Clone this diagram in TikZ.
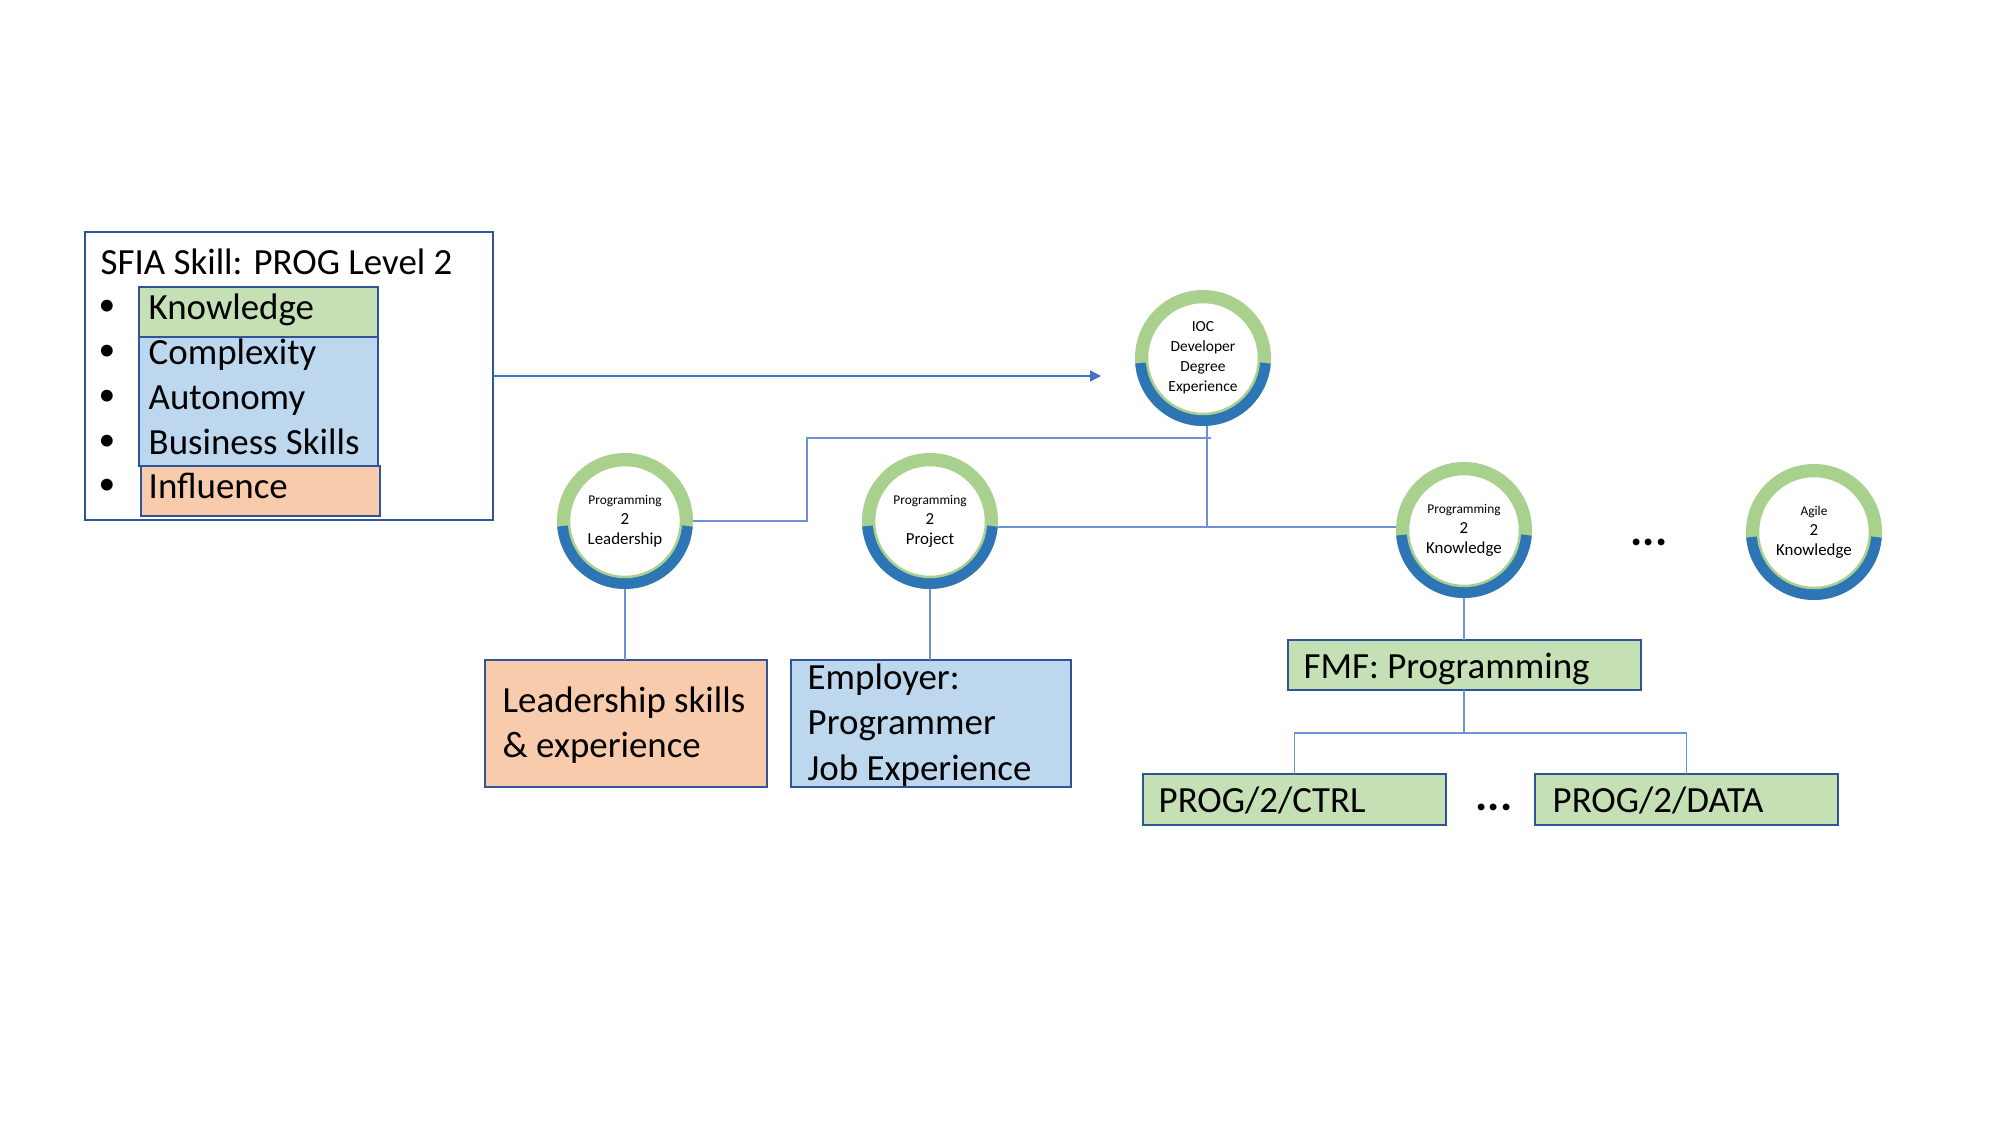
\documentclass[tikz,border=0pt]{standalone}
\usepackage{fontspec}
\setmainfont{Carlito}
\usetikzlibrary{arrows.meta}

\definecolor{boxgreen}{HTML}{C5E0B4}
\definecolor{boxblue}{HTML}{BDD7EE}
\definecolor{boxorange}{HTML}{F8CBAD}
\definecolor{boxedge}{HTML}{2F5597}
\definecolor{ringgreen}{HTML}{A9D18E}
\definecolor{ringblue}{HTML}{2E75B6}
\definecolor{linkblue}{HTML}{4472C4}
\definecolor{linkpale}{HTML}{6E92D8}

\newcommand\ringsmall{\fontsize{3.8}{4.6}\selectfont}

\tikzset{
  tag/.style={draw=boxedge, line width=0.2mm, inner sep=0pt, outer sep=0pt},
  word/.style={anchor=base west, inner sep=0pt, font=\fontsize{10.5}{12.8}\selectfont},
  dot/.style={inner sep=0pt, font=\fontsize{9.5}{9.5}\selectfont},
  ring/.style={circle, draw=ringgreen, line width=1.2mm, fill=white, minimum size=12.4mm,
    inner sep=0pt, outer sep=0.6mm, align=center, font=\fontsize{4.8}{5.7}\selectfont},
  link/.style={draw=linkpale, line width=0.13mm},
  feed/.style={draw=linkblue, line width=0.13mm, -{Triangle[length=1.1mm, width=1.1mm]}},
}

\begin{document}
\begin{tikzpicture}[x=0.1mm, y=-0.1mm]
        \fill[white] (0,0) rectangle (2000,1125);
        \useasboundingbox (0,0) rectangle (2000,1125);

        % skill box on the left
        \node[tag, fill=white, minimum width=40.8mm, minimum height=28.8mm] (sfia) at (289,376) {};
        \node[word] (title) at (100,275) {SFIA Skill: PROG Level 2};

        \node[tag, fill=boxgreen, minimum width=23.9mm, minimum height=5mm] (knowbox) at (258.5,312) {};
        \node[tag, fill=boxblue, minimum width=23.9mm, minimum height=12.9mm] (cabbox) at (258.5,401.5) {};
        \node[tag, fill=boxorange, minimum width=23.9mm, minimum height=5mm] (inflbox) at (260.5,491) {};

        \foreach \y/\n in {308/1, 353/2, 398/3, 443/4, 487/5}
            \node[dot] (bul\n) at (107,\y) {\textbullet};

        \node[word] (item1) at (148,320) {Knowledge};
        \node[word] (item2) at (148,365) {Complexity};
        \node[word] (item3) at (148,410) {Autonomy};
        \node[word] (item4) at (148,455) {Business Skills};
        \node[word] (item5) at (148,499) {Influence};

        % rings
        \node[ring, font=\fontsize{4.4}{5.7}\selectfont] (ioc) at (1203,358) {IOC\\Developer\\Degree\\Experience};
        \node[ring] (lead) at (625,521) {{\ringsmall Programming}\\2\\Leadership};
        \node[ring] (proj) at (930,521) {{\ringsmall Programming}\\2\\Project};
        \node[ring] (pknow) at (1464,530) {{\ringsmall Programming}\\2\\Knowledge};
        \node[ring] (agile) at (1814,532) {{\ringsmall Agile}\\2\\Knowledge};

        \foreach \c in {ioc, lead, proj, pknow, agile} {
            \draw[ringblue, line width=1.2mm] ([shift={(184.6:6.2mm)}]\c.center) arc[start angle=184.6, end angle=355.4, radius=6.2mm];
            \draw[ringgreen, line width=0.25mm] (\c.center) circle[radius=5.6mm];
        }

        \node[dot, font=\fontsize{13}{13}\selectfont\bfseries] (dotsA) at (1649,542) {...};

        % boxes below the rings
        \node[tag, fill=boxorange, minimum width=28.2mm, minimum height=12.7mm] (leadbox) at (626,723.5) {};
        \node[word] (lead1) at (502,712) {Leadership skills};
        \node[word] (lead2) at (502,757) {\& experience};

        \node[tag, fill=boxblue, minimum width=28mm, minimum height=12.7mm] (empbox) at (931,723.5) {};
        \node[word] (emp1) at (807,690) {Employer:};
        \node[word] (emp2) at (807,735) {Programmer};
        \node[word] (emp3) at (807,780) {Job Experience};

        \node[tag, fill=boxgreen, minimum width=35.3mm, minimum height=5mm] (fmf) at (1464,665) {};
        \node[word] (fmftext) at (1303,678) {FMF: Programming};

        \node[tag, fill=boxgreen, minimum width=30.3mm, minimum height=5.1mm] (ctrl) at (1294.5,799.5) {};
        \node[word] (ctrltext) at (1158,812) {PROG/2/CTRL};
        \node[tag, fill=boxgreen, minimum width=30.3mm, minimum height=5.1mm] (data) at (1686.5,799.5) {};
        \node[word] (datatext) at (1552,812) {PROG/2/DATA};

        \node[dot, font=\fontsize{13}{13}\selectfont\bfseries] (dotsB) at (1494,807) {...};

        \coordinate (arrowend) at (1101,376);
        \coordinate (leadbend) at (807,438);
        \coordinate (leadend) at (1211,438);
        \coordinate (junc) at (1207,527);
        \coordinate (split) at (1464,733);

        % connectors
        \draw[feed] (sfia.east) -- (arrowend);
        \draw[link] (lead.east) -| (leadbend) -- (leadend);
        \draw[link] (proj.east |- junc) -- (junc) -- (junc |- ioc.south);
        \draw[link] (junc) -- (pknow.west |- junc);
        \draw[link] (lead.south) -- (lead.south |- leadbox.north);
        \draw[link] (proj.south) -- (proj.south |- empbox.north);
        \draw[link] (pknow.south) -- (pknow.south |- fmf.north);
        \draw[link] (fmf.south) -- (split) -| (ctrl.north);
        \draw[link] (split) -| (data.north);
\end{tikzpicture}
\end{document}
